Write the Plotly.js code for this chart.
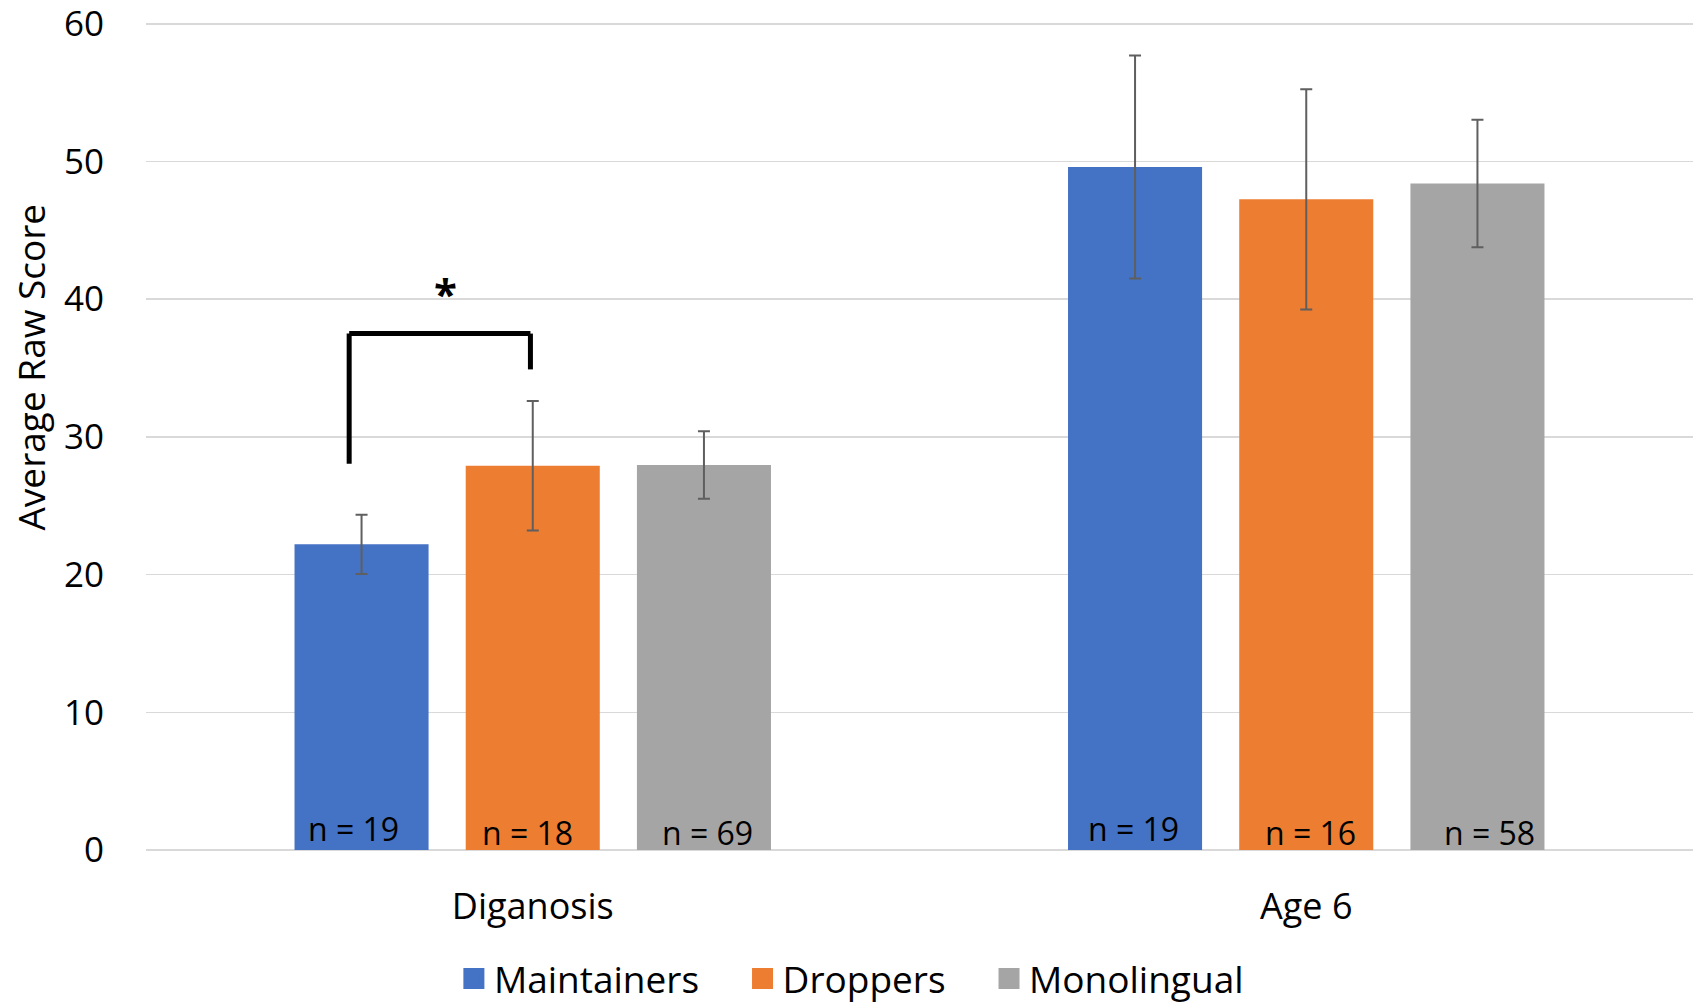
<!DOCTYPE html>
<html>
<head>
<meta charset="utf-8">
<script src="https://cdn.plot.ly/plotly-3.0.1.min.js"></script>
<style>html,body{margin:0;padding:0;background:#fff;}#chart{width:1696px;height:1003px;}</style>
</head>
<body>
<div id="chart"></div>
<script>
// ---- data ----
const categories = ["Diganosis", "Age 6"];
const seriesNames = ["Maintainers", "Droppers", "Monolingual"];
const maintainers = [22.2, 49.6];
const droppers = [27.9, 47.25];
const monolingual = [27.95, 48.4];
const maintainersErr = [2.15, 8.1];
const droppersErr = [4.7, 8.0];
const monolingualErr = [2.45, 4.63];
const maintainersN = ["n = 19", "n = 19"];
const droppersN = ["n = 18", "n = 16"];
const monolingualN = ["n = 69", "n = 58"];
const yTicks = [0, 10, 20, 30, 40, 50, 60];
const yTitle = "Average Raw Score";
// significance bracket (Maintainers vs Droppers at Diganosis)
const bracketTop = 37.5;
const bracketLeftBottom = 28.05;
const bracketRightBottom = 34.9;
const starLabel = "*";
const starY = 40.5;

// ---- style ----
const colors = ["#4472C4", "#ED7D31", "#A5A5A5"];
const FONT = "'Open Sans', 'Noto Sans', sans-serif";
const bargap = 0.336, bargroupgap = 0.217;
const slot = (1 - bargap) / 3;
const NB = "\u00a0";

const values = [maintainers, droppers, monolingual];
const errs = [maintainersErr, droppersErr, monolingualErr];
const nLabels = [maintainersN, droppersN, monolingualN];

const traces = [];
values.forEach((v, i) => {
  traces.push({
    type: "bar",
    name: seriesNames[i],
    x: categories,
    y: v,
    marker: {color: colors[i]},
    error_y: {type: "data", array: errs[i], visible: true, color: "#5f5f5f", thickness: 2, width: 6},
    showlegend: false,
    hoverinfo: "x+y"
  });
});
// legend proxies (bigger square symbols)
values.forEach((v, i) => {
  traces.push({
    type: "scatter", mode: "markers",
    name: seriesNames[i] + (i < 2 ? NB + NB + NB + NB : ""),
    x: [null], y: [null],
    marker: {symbol: "square", size: 16, color: colors[i], line: {color: colors[i], width: 5}},
    showlegend: true, hoverinfo: "skip"
  });
});

// n-labels as annotations at bar bottoms
const labelShift = [[-8, -2], [-5, 4], [4, 12]];
const labelY = [[1.55, 1.55], [1.3, 1.3], [1.3, 1.3]];
const annotations = [];
nLabels.forEach((arr, i) => {
  arr.forEach((t, j) => {
    annotations.push({
      x: j + (i - 1) * slot, y: labelY[i][j], xref: "x", yref: "y",
      text: t, showarrow: false, xanchor: "center", yanchor: "middle",
      xshift: labelShift[i][j],
      font: {family: FONT, size: 32, color: "#000"}
    });
  });
});
const leftX = 0 - slot - 0.016;
const rightX = -0.003;
annotations.push({
  x: (leftX + rightX) / 2 + 0.008, y: starY, xref: "x", yref: "y",
  text: "<b>" + starLabel + "</b>", showarrow: false, xanchor: "center", yanchor: "middle",
  font: {family: FONT, size: 42, color: "#000"}
});
// y-axis title (offset upward like the original)
annotations.push({
  x: 0, xref: "paper", xshift: -115, y: 0.582, yref: "paper",
  text: yTitle, textangle: -90, showarrow: false, xanchor: "center", yanchor: "middle",
  font: {family: FONT, size: 37, color: "#000"}
});

const lineStyle = {color: "#000", width: 5};
const shapes = [
  {type: "line", xref: "x", yref: "y", x0: leftX, x1: leftX, y0: bracketLeftBottom, y1: bracketTop, line: lineStyle},
  {type: "line", xref: "x", yref: "y", x0: leftX, x1: rightX, y0: bracketTop, y1: bracketTop, line: lineStyle},
  {type: "line", xref: "x", yref: "y", x0: rightX, x1: rightX, y0: bracketRightBottom, y1: bracketTop, line: lineStyle}
];

const layout = {
  width: 1696, height: 1003,
  margin: {l: 146, r: 3, t: 21, b: 153},
  paper_bgcolor: "#fff", plot_bgcolor: "#fff",
  barmode: "group", bargap: bargap, bargroupgap: bargroupgap,
  font: {family: FONT, color: "#000"},
  xaxis: {
    type: "category", categoryorder: "array", categoryarray: categories,
    showgrid: false, showline: false, zeroline: false,
    ticks: "outside", ticklen: 25, tickcolor: "rgba(0,0,0,0)",
    tickfont: {family: FONT, size: 36, color: "#000"}
  },
  yaxis: {
    range: [0, 60.2], tickvals: yTicks, ticktext: yTicks.map(String),
    showgrid: true, gridcolor: "#D9D9D9", gridwidth: 1.5,
    zeroline: true, zerolinecolor: "#D9D9D9", zerolinewidth: 1.5,
    showline: false, ticks: "outside", ticklen: 34, tickcolor: "rgba(0,0,0,0)",
    ticklabeloverflow: "allow",
    tickfont: {family: FONT, size: 35, color: "#000"}
  },
  showlegend: true,
  legend: {
    orientation: "h", xref: "container", yref: "container",
    x: 0.502, xanchor: "center", y: 0.024, yanchor: "middle",
    font: {family: FONT, size: 37, color: "#000"},
    bgcolor: "rgba(0,0,0,0)"
  },
  shapes: shapes,
  annotations: annotations
};

Plotly.newPlot("chart", traces, layout, {displayModeBar: false, staticPlot: true});
</script>
</body>
</html>
